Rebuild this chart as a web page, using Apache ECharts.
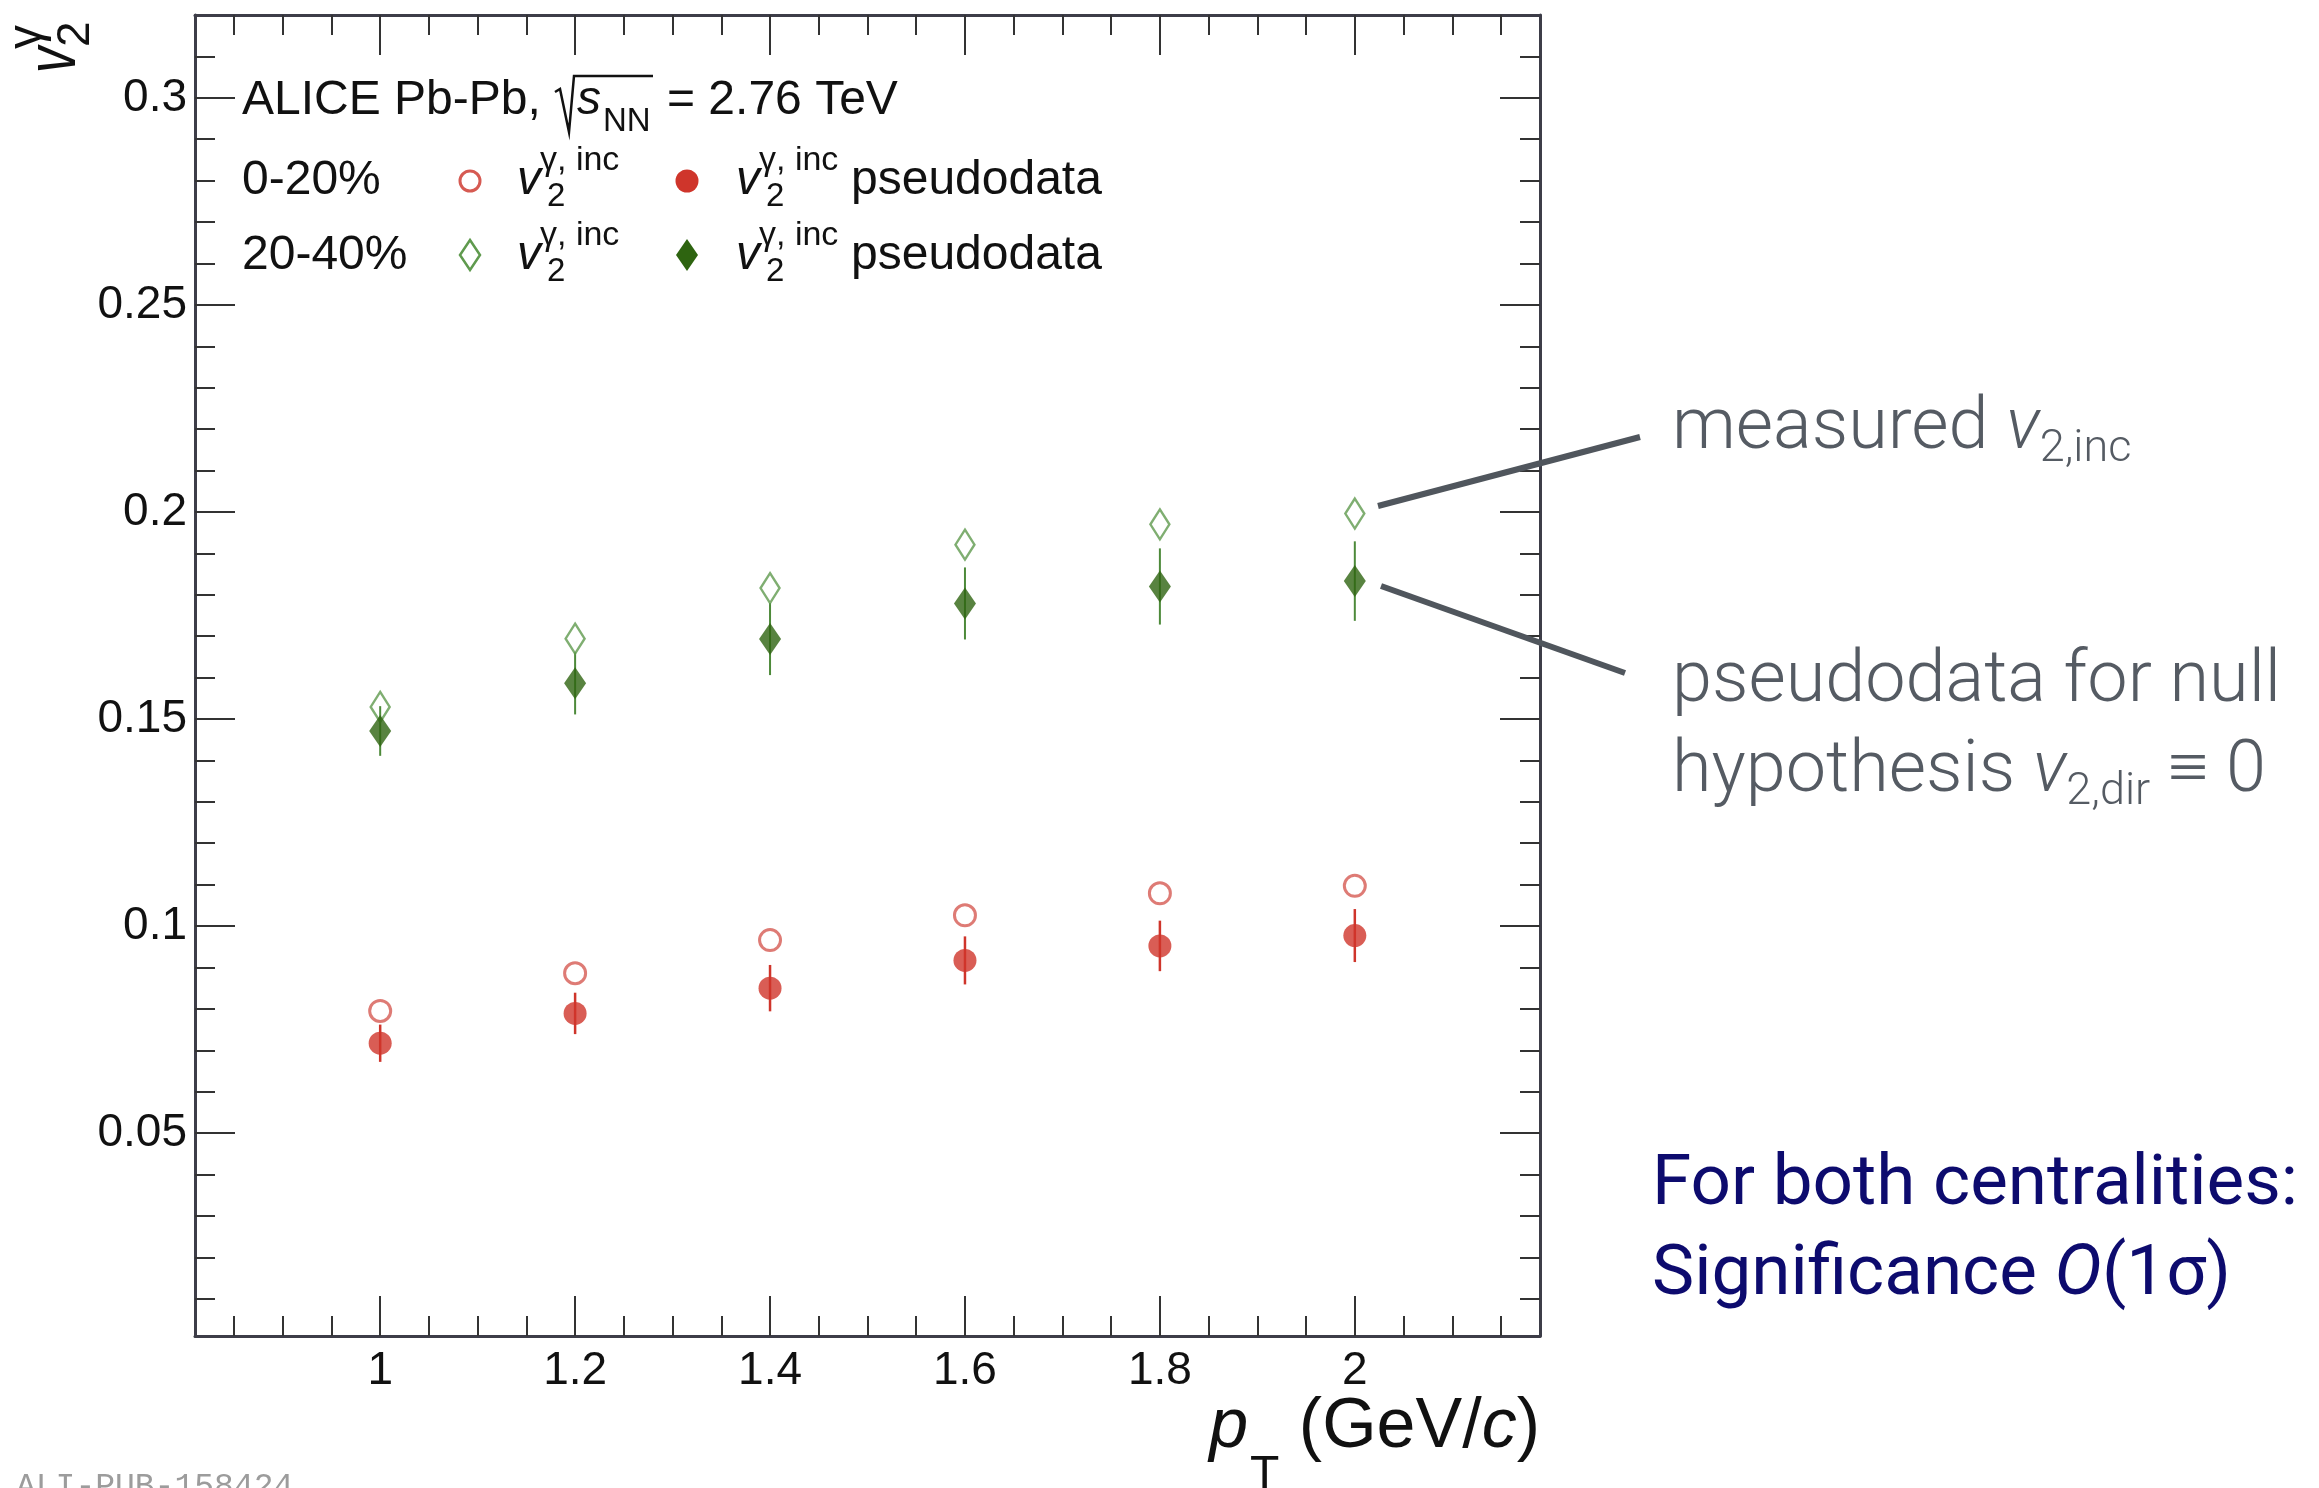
<!DOCTYPE html>
<html>
<head>
<meta charset="utf-8">
<title>Inclusive photon v2 vs pseudodata</title>
<script src="https://cdn.jsdelivr.net/npm/echarts@6.0.0/dist/echarts.min.js"></script>
<style>
  html, body { margin: 0; padding: 0; background: #ffffff; }
  #chart { width: 2319px; height: 1488px; }
</style>
</head>
<body>
<div id="chart"></div>
<script>
// ---- data: inclusive photon v2 and null-hypothesis pseudodata, ALICE Pb-Pb 2.76 TeV ----
const pT = [1.0, 1.2, 1.4, 1.6, 1.8, 2.0];

// 0-20% centrality
const v2IncCent0020 = [0.0795, 0.0886, 0.0966, 0.1026, 0.1079, 0.1097];
const v2PseudoCent0020 = [0.0717, 0.0789, 0.0850, 0.0917, 0.0952, 0.0977];
const v2PseudoErrCent0020 = [0.0045, 0.0050, 0.0056, 0.0058, 0.0061, 0.0064];

// 20-40% centrality
const v2IncCent2040 = [0.1529, 0.1694, 0.1816, 0.1921, 0.1970, 0.1996];
const v2PseudoCent2040 = [0.1471, 0.1586, 0.1693, 0.1779, 0.1820, 0.1833];
const v2PseudoErrCent2040 = [0.0060, 0.0075, 0.0087, 0.0087, 0.0092, 0.0096];

// axis ranges and ticks
const xRange = [0.81, 2.19];
const yRange = [0.001, 0.32];
const xMajorTicks = [1, 1.2, 1.4, 1.6, 1.8, 2];
const xMinorTicks = [0.85, 0.9, 0.95, 1.05, 1.1, 1.15, 1.25, 1.3, 1.35, 1.45, 1.5, 1.55,
                     1.65, 1.7, 1.75, 1.85, 1.9, 1.95, 2.05, 2.1, 2.15];
const yMajorTicks = [0.05, 0.1, 0.15, 0.2, 0.25, 0.3];
const yMinorTicks = [0.01, 0.02, 0.03, 0.04, 0.06, 0.07, 0.08, 0.09, 0.11, 0.12, 0.13, 0.14,
                     0.16, 0.17, 0.18, 0.19, 0.21, 0.22, 0.23, 0.24, 0.26, 0.27, 0.28, 0.29, 0.31];

// ---- colours ----
const RED = '#cf352b';
const RED_OPEN = '#d65a52';
const GREEN = '#2e6410';
const GREEN_OPEN = '#5f9a4e';
const GREEN_BAR = '#4d8a3a';
const FRAME = '#3d3d48';
const TICK = '#333333';
const NOTE_GRAY = '#555b63';
const NOTE_BLUE = '#0d0b6e';

// ---- text helpers (absolute placement on an alphabetic baseline) ----
const MID = { 'Liberation Sans': 0.3465, 'Roboto': 0.342, 'Liberation Mono': 0.27 };
const measureCtx = document.createElement('canvas').getContext('2d');

function makeText(x, baseline, str, o) {
  const fam = o.family || 'Liberation Sans';
  const size = o.size;
  const fstyle = o.italic ? 'italic' : 'normal';
  const weight = o.weight || 'normal';
  measureCtx.font = fstyle + ' ' + weight + ' ' + size + 'px ' + fam;
  const sx = o.scaleX || 1;
  const w = measureCtx.measureText(str).width * sx;
  return {
    w: w,
    el: {
      type: 'text', x: x, y: baseline - MID[fam] * size, scaleX: sx, silent: true, z: 100,
      style: {
        text: str, fill: o.color || '#111111',
        fontSize: size, fontFamily: fam, fontStyle: fstyle, fontWeight: weight,
        align: 'left', verticalAlign: 'middle', textAlign: 'left', textVerticalAlign: 'middle'
      }
    }
  };
}

// lay a run of text pieces left to right; returns end x
function run(x, baseline, parts, out) {
  let cx = x;
  parts.forEach(function (p) {
    const r = makeText(cx + (p.dx || 0), baseline + (p.dy || 0), p.t, p);
    out.push(r.el);
    if (p.adv !== false) cx += r.w + (p.dx || 0);
  });
  return cx;
}
function runWidth(parts) {
  let w = 0;
  parts.forEach(function (p) {
    if (p.adv !== false) w += makeText(0, 0, p.t, p).w + (p.dx || 0);
  });
  return w;
}

const graphics = [];
const LEG = 48;

// header line: ALICE Pb-Pb, sqrt(s_NN) = 2.76 TeV
run(242, 117, [{ t: 'ALICE Pb-Pb,', size: LEG }], graphics);
graphics.push({
  type: 'polyline', silent: true, z: 100,
  shape: { points: [[555, 92], [560, 89], [569, 132], [574, 76], [653, 76]] },
  style: { stroke: '#111111', lineWidth: 2.5, fill: null }
});
run(577, 117, [{ t: 's', size: LEG, italic: true }], graphics);
run(603, 133, [{ t: 'NN', size: 33 }], graphics);
run(667, 117, [{ t: '= 2.76 TeV', size: LEG }], graphics);

// legend rows
function v2Label(x, baseline) {
  run(x, baseline, [{ t: 'v', size: LEG, italic: true }], graphics);
  run(x + 30, baseline + 11, [{ t: '2', size: 33 }], graphics);
  run(x + 23, baseline - 25, [{ t: '\u03b3, inc', size: 34 }], graphics);
}
run(242, 197, [{ t: '0-20%', size: LEG }], graphics);
v2Label(517, 197);
v2Label(736, 197);
run(851, 197, [{ t: 'pseudodata', size: LEG }], graphics);
run(242, 272, [{ t: '20-40%', size: LEG }], graphics);
v2Label(517, 272);
v2Label(736, 272);
run(851, 272, [{ t: 'pseudodata', size: LEG }], graphics);

// legend markers
graphics.push(
  { type: 'circle', silent: true, z: 100, shape: { cx: 470, cy: 181, r: 10 },
    style: { fill: null, stroke: RED_OPEN, lineWidth: 3 } },
  { type: 'circle', silent: true, z: 100, shape: { cx: 687, cy: 181, r: 11.5 },
    style: { fill: RED } },
  { type: 'polygon', silent: true, z: 100, shape: { points: [[470, 240], [480, 255], [470, 270], [460, 255]] },
    style: { fill: null, stroke: GREEN_OPEN, lineWidth: 2.5 } },
  { type: 'polygon', silent: true, z: 100, shape: { points: [[687, 239], [698, 255], [687, 271], [676, 255]] },
    style: { fill: GREEN } }
);

// y axis title  v_2^gamma  (rotated to read bottom-up)
const yTitle = [];
run(0, 0, [{ t: 'v', size: 70, italic: true, scaleX: 0.75 }], yTitle);
run(26, 12, [{ t: '2', size: 46 }], yTitle);
run(24, -36, [{ t: '\u03b3', size: 48 }], yTitle);
graphics.push({ type: 'group', x: 80, y: 73, rotation: Math.PI / 2, silent: true, z: 100, children: yTitle });

// x axis title  p_T (GeV/c), right-aligned to the frame
const xTitleParts = [
  { t: 'p', size: 70, italic: true },
  { t: 'T', size: 48, dy: 40, dx: 2 },
  { t: ' (GeV/', size: 70 },
  { t: 'c', size: 70, italic: true },
  { t: ')', size: 70 }
];
run(1540 - runWidth(xTitleParts), 1452, xTitleParts, graphics);

// annotations on the right
const NOTE = { size: 72, family: 'Roboto', weight: 300, color: NOTE_GRAY };
const NOTE_SUB = { size: 45, family: 'Roboto', weight: 300, color: NOTE_GRAY, dy: 10 };
run(1672, 455, [
  Object.assign({ t: 'measured ' }, NOTE),
  Object.assign({ t: 'v' }, NOTE, { italic: true }),
  Object.assign({ t: '2,inc' }, NOTE_SUB)
], graphics);
run(1672, 708, [Object.assign({ t: 'pseudodata for null' }, NOTE)], graphics);
run(1672, 798, [
  Object.assign({ t: 'hypothesis ' }, NOTE),
  Object.assign({ t: 'v' }, NOTE, { italic: true }),
  Object.assign({ t: '2,dir' }, NOTE_SUB),
  Object.assign({ t: ' \u2261 0' }, NOTE)
], graphics);
graphics.push(
  { type: 'line', silent: true, z: 90, shape: { x1: 1378, y1: 506, x2: 1640, y2: 437 },
    style: { stroke: '#50565d', lineWidth: 6 } },
  { type: 'line', silent: true, z: 90, shape: { x1: 1381, y1: 586, x2: 1625, y2: 673 },
    style: { stroke: '#50565d', lineWidth: 6 } }
);

const BLUE = { size: 71, family: 'Roboto', weight: 400, color: NOTE_BLUE };
run(1652, 1211, [Object.assign({ t: 'For both centralities:' }, BLUE)], graphics);
run(1652, 1301, [
  Object.assign({ t: 'Significance ' }, BLUE),
  Object.assign({ t: 'O' }, BLUE, { italic: true }),
  Object.assign({ t: '(1\u03c3)' }, BLUE)
], graphics);

// publication id
run(16, 1496, [{ t: 'ALI-PUB-158424', size: 33, family: 'Liberation Mono', color: '#9c9c9c' }], graphics);

// ---- axes: major/minor tick sets on all four sides (ticks point inward) ----
function axisBase(range, pos) {
  return {
    type: 'value', min: range[0], max: range[1], position: pos,
    splitLine: { show: false }, axisPointer: { show: false }
  };
}
function majorAxis(range, pos, ticks, showLabels, labelOpt) {
  return Object.assign(axisBase(range, pos), {
    axisLine: { show: true, onZero: false, lineStyle: { color: FRAME, width: 3 } },
    axisTick: { show: true, inside: true, length: 40, customValues: ticks, lineStyle: { color: TICK, width: 2 } },
    axisLabel: showLabels ? Object.assign({
      show: true, customValues: ticks, color: '#111111',
      fontFamily: 'Liberation Sans', fontSize: 46,
      formatter: function (v) { return String(+(+v).toFixed(3)); }
    }, labelOpt) : { show: false }
  });
}
function minorAxis(range, pos, ticks) {
  return Object.assign(axisBase(range, pos), {
    axisLine: { show: false, onZero: false },
    axisTick: { show: true, inside: true, length: 20, customValues: ticks, lineStyle: { color: TICK, width: 2 } },
    axisLabel: { show: false }
  });
}

function errorBars(values, errs, color, width) {
  return {
    type: 'custom', xAxisIndex: 0, yAxisIndex: 0, silent: true, z: 2,
    data: pT.map(function (x, i) { return [x, values[i] - errs[i], values[i] + errs[i]]; }),
    renderItem: function (params, api) {
      const lo = api.coord([api.value(0), api.value(1)]);
      const hi = api.coord([api.value(0), api.value(2)]);
      return {
        type: 'line',
        shape: { x1: lo[0], y1: lo[1], x2: hi[0], y2: hi[1] },
        style: { stroke: color, lineWidth: width }
      };
    }
  };
}
function points(values, symbol, size, itemStyle, z) {
  return {
    type: 'scatter', xAxisIndex: 0, yAxisIndex: 0, silent: true, z: z,
    symbol: symbol, symbolSize: size,
    data: pT.map(function (x, i) { return [x, values[i]]; }),
    itemStyle: itemStyle
  };
}

const option = {
  animation: false,
  backgroundColor: '#ffffff',
  grid: { left: 195, right: 779, top: 15, bottom: 152, outerBoundsMode: 'none', containLabel: false },
  xAxis: [
    majorAxis(xRange, 'bottom', xMajorTicks, true, { margin: 12 }),
    minorAxis(xRange, 'bottom', xMinorTicks),
    majorAxis(xRange, 'top', xMajorTicks, false),
    minorAxis(xRange, 'top', xMinorTicks)
  ],
  yAxis: [
    majorAxis(yRange, 'left', yMajorTicks, true, { margin: 8 }),
    minorAxis(yRange, 'left', yMinorTicks),
    majorAxis(yRange, 'right', yMajorTicks, false),
    minorAxis(yRange, 'right', yMinorTicks)
  ],
  series: [
    errorBars(v2PseudoCent0020, v2PseudoErrCent0020, RED, 2.5),
    errorBars(v2PseudoCent2040, v2PseudoErrCent2040, GREEN_BAR, 2),
    points(v2IncCent0020, 'circle', 21, { color: 'rgba(0,0,0,0)', borderColor: RED_OPEN, borderWidth: 3 }, 5),
    points(v2PseudoCent0020, 'circle', 23, { color: RED }, 6),
    points(v2IncCent2040, 'diamond', [19, 30], { color: 'rgba(0,0,0,0)', borderColor: GREEN_OPEN, borderWidth: 2.5 }, 5),
    points(v2PseudoCent2040, 'diamond', [22, 32], { color: GREEN }, 6)
  ],
  graphic: { elements: graphics }
};

const chart = echarts.init(document.getElementById('chart'), null, { renderer: 'canvas' });
chart.setOption(option);
</script>
</body>
</html>
